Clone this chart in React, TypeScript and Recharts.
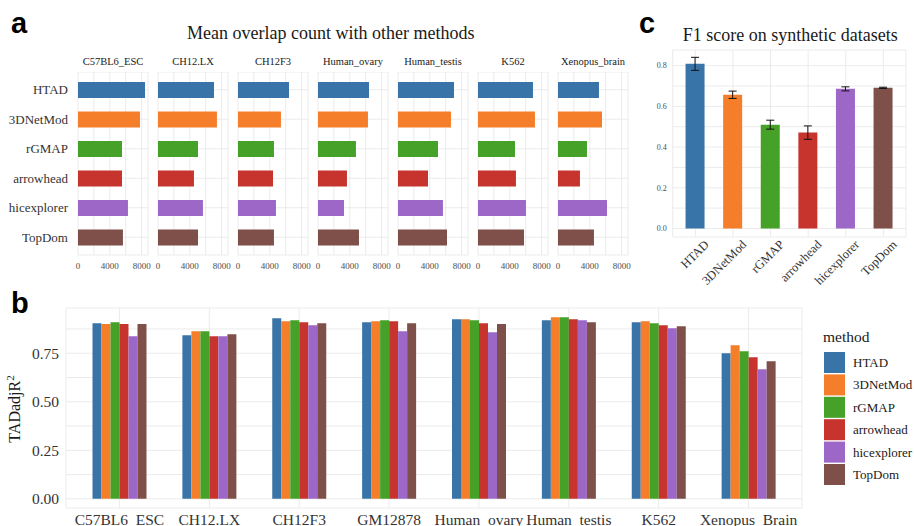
import React from 'react';
import { BarChart, Bar, XAxis, YAxis, CartesianGrid, Cell, ErrorBar } from 'recharts';

const SERIF = "'Liberation Serif', 'Times New Roman', serif";
const SANS = "'Liberation Sans', Arial, sans-serif";
const GRID = '#ebebeb';

const methods = ['HTAD', '3DNetMod', 'rGMAP', 'arrowhead', 'hicexplorer', 'TopDom'];
const methodColors = ['#3874a8', '#f47e29', '#45a127', '#c6342d', '#9c67c7', '#7f4f4a'];

// a: mean overlap count, one facet per dataset (values in method order)
const overlapDatasets = ['C57BL6_ESC', 'CH12.LX', 'CH12F3', 'Human_ovary', 'Human_testis', 'K562', 'Xenopus_brain'];
const overlapC57BL6 = [8420, 7790, 5530, 5530, 6280, 5650];
const overlapCH12LX = [7040, 7410, 5030, 4520, 5650, 5030];
const overlapCH12F3 = [6410, 5400, 4520, 4400, 4770, 4520];
const overlapOvary = [6410, 6280, 4770, 3640, 3270, 5150];
const overlapTestis = [7040, 6660, 5030, 3770, 5650, 6160];
const overlapK562 = [6910, 7160, 4650, 4770, 6030, 5780];
const overlapXenopus = [5150, 5530, 3640, 2760, 6160, 4520];
const overlapValues = [overlapC57BL6, overlapCH12LX, overlapCH12F3, overlapOvary, overlapTestis, overlapK562, overlapXenopus];
const overlapTicks = [0, 4000, 8000];
const overlapMinor = [2000, 6000];

// b: TADadjR2 per dataset, one array per method
const adjDatasets = ['C57BL6_ESC', 'CH12.LX', 'CH12F3', 'GM12878', 'Human_ovary', 'Human_testis', 'K562', 'Xenopus_Brain'];
const adjHTAD = [0.905, 0.843, 0.930, 0.910, 0.925, 0.920, 0.910, 0.750];
const adj3DNetMod = [0.900, 0.863, 0.915, 0.915, 0.925, 0.936, 0.915, 0.791];
const adjRGMAP = [0.910, 0.863, 0.920, 0.920, 0.920, 0.936, 0.905, 0.760];
const adjArrowhead = [0.900, 0.838, 0.910, 0.915, 0.905, 0.925, 0.894, 0.730];
const adjHicexplorer = [0.838, 0.838, 0.894, 0.863, 0.858, 0.920, 0.879, 0.668];
const adjTopDom = [0.900, 0.848, 0.905, 0.905, 0.900, 0.910, 0.889, 0.709];
const adjSeries = [adjHTAD, adj3DNetMod, adjRGMAP, adjArrowhead, adjHicexplorer, adjTopDom];
const adjTicks = [0, 0.25, 0.5, 0.75];
const adjMinor = [0.125, 0.375, 0.625, 0.875];

// c: F1 on synthetic data, mean and error half-width
const f1Mean = [0.809, 0.657, 0.510, 0.471, 0.686, 0.691];
const f1Err = [0.032, 0.018, 0.022, 0.033, 0.010, 0.003];
const f1Ticks = [0, 0.2, 0.4, 0.6, 0.8];
const f1Minor = [0.1, 0.3, 0.5, 0.7];

const adjData = adjDatasets.map((d, i) => {
  const row: Record<string, string | number> = { dataset: d };
  methods.forEach((m, j) => { row[m] = adjSeries[j][i]; });
  return row;
});
const f1Data = methods.map((m, i) => ({ method: m, f1: f1Mean[i], err: f1Err[i] }));

const merge = (a: number[], b: number[]) => [...a, ...b].sort((x, y) => x - y);

function OverlapFacet({ index }: { index: number }) {
  const first = index === 0;
  const plotLeft = 78 + 80 * index;
  const padL = first ? 0 : 6;
  const data = methods.map((m, i) => ({ method: m, count: overlapValues[index][i] }));
  return (
    <div style={{ position: 'absolute', left: first ? 0 : plotLeft - padL, top: 72 }}>
      <BarChart
        width={(first ? 78 : padL) + 70 + 12}
        height={203}
        data={data}
        layout="vertical"
        margin={{ top: 0, right: 12, bottom: 0, left: padL }}
      >
        <CartesianGrid stroke={GRID} />
        <XAxis
          type="number"
          domain={[0, 8800]}
          ticks={merge(overlapTicks, overlapMinor)}
          interval={0}
          height={20}
          axisLine={false}
          tickLine={false}
          tick={(p: any) =>
            overlapTicks.includes(p.payload.value) ? (
              <text x={p.x} y={p.y} dy="0.71em" textAnchor="middle" fontSize={9} fontFamily={SERIF} fill="#4d4d4d">
                {p.payload.value}
              </text>
            ) : <g />
          }
        />
        <YAxis
          type="category"
          dataKey="method"
          hide={!first}
          width={78}
          padding={{ top: 3, bottom: 3 }}
          axisLine={false}
          tickLine={false}
          tickSize={8}
          interval={0}
          tick={(p: any) => (
            <text x={p.x} y={p.y} dy="0.35em" textAnchor="end" fontSize={13} fontFamily={SERIF} fill="#333">
              {p.payload.value}
            </text>
          )}
        />
        <Bar dataKey="count" barSize={16} isAnimationActive={false}>
          {data.map((d, i) => <Cell key={d.method} fill={methodColors[i]} />)}
        </Bar>
      </BarChart>
    </div>
  );
}

function AdjChart() {
  return (
    <div style={{ position: 'absolute', left: 0, top: 300 }}>
      <BarChart width={914} height={226} data={adjData} margin={{ top: 8, right: 112, bottom: 0, left: 0 }} barGap={0}>
        <CartesianGrid stroke={GRID} />
        <XAxis
          dataKey="dataset"
          interval={0}
          height={18}
          padding={{ left: 8.5, right: 8.5 }}
          axisLine={false}
          tickLine={false}
          tick={(p: any) => (
            <text x={p.x} y={p.y} dy={8.5} textAnchor="middle" fontSize={15.5} fontFamily={SERIF} fill="#333">
              {p.payload.value}
            </text>
          )}
        />
        <YAxis
          domain={[-0.047, 0.983]}
          ticks={merge(adjTicks, adjMinor)}
          interval={0}
          width={66}
          axisLine={false}
          tickLine={false}
          tickSize={5}
          tick={(p: any) =>
            adjTicks.includes(p.payload.value) ? (
              <text x={p.x} y={p.y} dy="0.35em" textAnchor="end" fontSize={15.5} fontFamily={SERIF} fill="#333">
                {p.payload.value.toFixed(2)}
              </text>
            ) : <g />
          }
        />
        {methods.map((m, i) => (
          <Bar key={m} dataKey={m} fill={methodColors[i]} barSize={9} isAnimationActive={false} />
        ))}
      </BarChart>
    </div>
  );
}

function F1Chart() {
  return (
    <div style={{ position: 'absolute', left: 640, top: 40 }}>
      <BarChart width={274} height={282} data={f1Data} margin={{ top: 10, right: 8, bottom: 0, left: 0 }}>
        <CartesianGrid stroke={GRID} />
        <XAxis
          dataKey="method"
          interval={0}
          height={85}
          padding={{ left: 3.85, right: 3.85 }}
          axisLine={false}
          tickLine={false}
          tick={(p: any) => (
            <text
              transform={`translate(${p.x + 8},${p.y - 6}) rotate(-45)`}
              dy="0.71em"
              textAnchor="end"
              fontSize={12.5}
              fontFamily={SERIF}
              fill="#333"
            >
              {p.payload.value}
            </text>
          )}
        />
        <YAxis
          domain={[-0.042, 0.877]}
          ticks={merge(f1Ticks, f1Minor)}
          interval={0}
          width={32.7}
          axisLine={false}
          tickLine={false}
          tickSize={4}
          tick={(p: any) =>
            f1Ticks.includes(p.payload.value) ? (
              <text x={p.x} y={p.y} dy="0.35em" textAnchor="end" fontSize={8} fontFamily={SERIF} fill="#4d4d4d">
                {p.payload.value.toFixed(1)}
              </text>
            ) : <g />
          }
        />
        <Bar dataKey="f1" barSize={19} isAnimationActive={false}>
          {f1Data.map((d, i) => <Cell key={d.method} fill={methodColors[i]} />)}
          <ErrorBar dataKey="err" width={4} stroke="#111" strokeWidth={1} isAnimationActive={false} />
        </Bar>
      </BarChart>
    </div>
  );
}

export default function App() {
  return (
    <div style={{ position: 'absolute', left: 0, top: 0, width: 914, height: 526, background: '#fff', overflow: 'hidden' }}>
      {overlapDatasets.map((d, i) => <OverlapFacet key={d} index={i} />)}
      <AdjChart />
      <F1Chart />
      <svg width={914} height={526} style={{ position: 'absolute', left: 0, top: 0, pointerEvents: 'none' }}>
        <g fontFamily={SANS} fontWeight="bold" fontSize={29} fill="#000">
          <text x={11} y={33}>a</text>
          <text x={11} y={313}>b</text>
          <text x={639} y={33}>c</text>
        </g>
        <g fontFamily={SERIF} fill="#1a1a1a">
          <text x={187} y={39.3} fontSize={18}>Mean overlap count with other methods</text>
          <text x={682.7} y={40.7} fontSize={18}>F1 score on synthetic datasets</text>
          {overlapDatasets.map((d, i) => (
            <text key={d} x={78 + 80 * i + 35} y={64.5} fontSize={10.5} textAnchor="middle">{d}</text>
          ))}
          <text transform="translate(19.5,409) rotate(-90)" fontSize={16} textAnchor="middle">
            TADadjR<tspan dy={-6} fontSize={11}>2</tspan>
          </text>
          <text x={823} y={341.7} fontSize={15.5}>method</text>
          {methods.map((m, i) => (
            <g key={m}>
              <rect x={824} y={352 + 22.4 * i} width={21} height={21} fill={methodColors[i]} />
              <text x={853} y={352 + 22.4 * i + 15} fontSize={13}>{m}</text>
            </g>
          ))}
        </g>
      </svg>
    </div>
  );
}
